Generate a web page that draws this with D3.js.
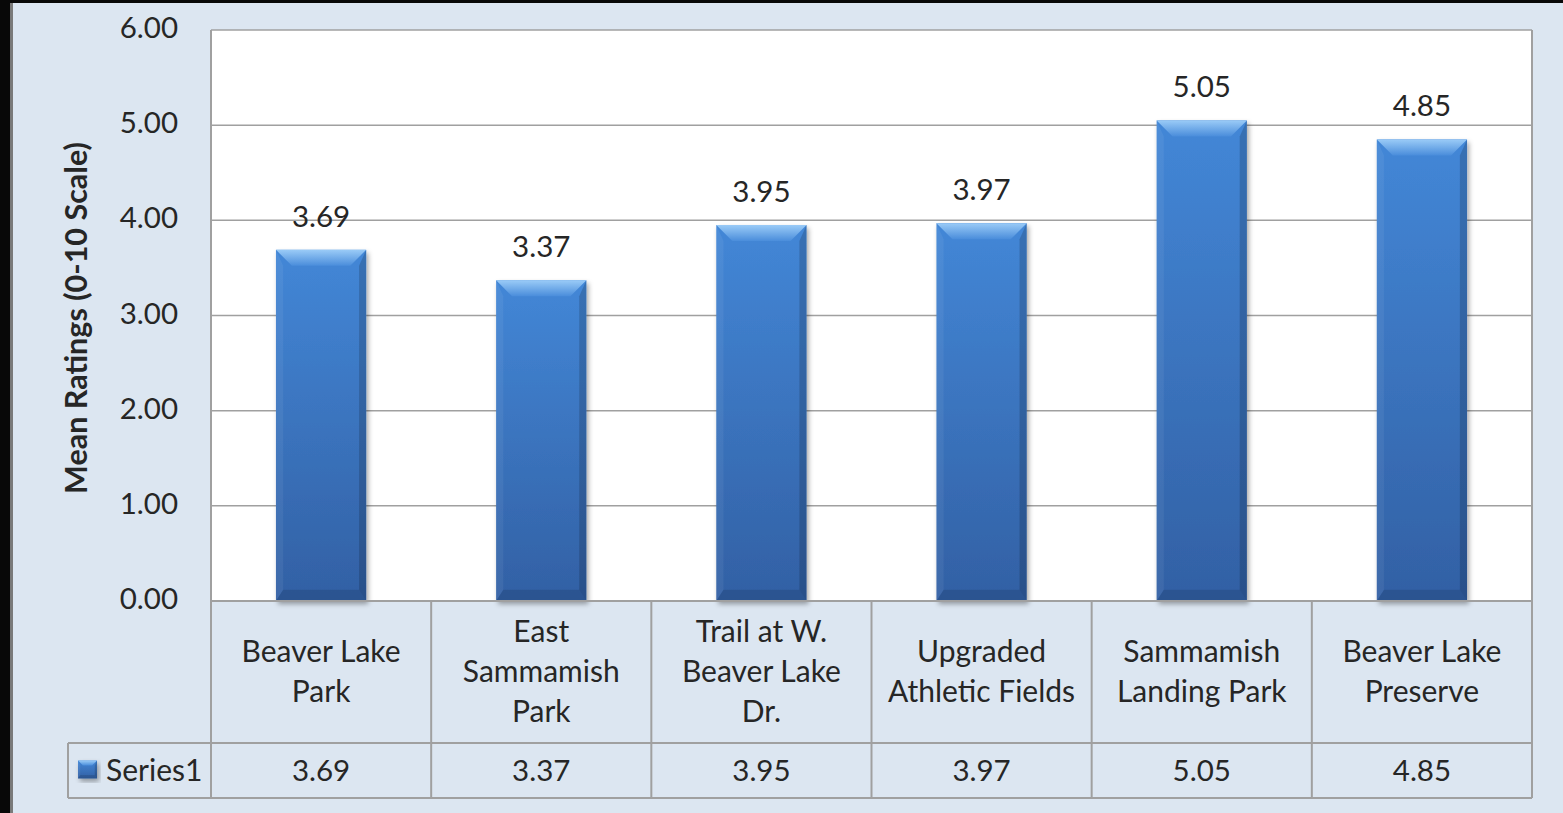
<!DOCTYPE html>
<html>
<head>
<meta charset="utf-8">
<script src="https://cdn.jsdelivr.net/npm/d3@7"></script>
<style>
  html, body { margin: 0; padding: 0; background: #000; }
  svg { display: block; }
  text { font-family: Lato, "Open Sans", sans-serif; fill: #262626; }
</style>
</head>
<body>
<svg id="chart"></svg>
<script>
// chart data
const categories = ["Beaver Lake Park", "East Sammamish Park", "Trail at W. Beaver Lake Dr.",
    "Upgraded Athletic Fields", "Sammamish Landing Park", "Beaver Lake Preserve"];
const categoryLines = [
    ["Beaver Lake", "Park"],
    ["East", "Sammamish", "Park"],
    ["Trail at W.", "Beaver Lake", "Dr."],
    ["Upgraded", "Athletic Fields"],
    ["Sammamish", "Landing Park"],
    ["Beaver Lake", "Preserve"]
];
const series1 = [3.69, 3.37, 3.95, 3.97, 5.05, 4.85];
const seriesName = "Series1";
const yTicks = [0, 1, 2, 3, 4, 5, 6];
const yTitle = "Mean Ratings (0-10 Scale)";

const width = 1563, height = 813;
const plot = {left: 211, right: 1532, top: 30, bottom: 601};
const table = {catBottom: 743, bottom: 798, left: 68};
const lineColor = "#a0a0a0";

const svg = d3.select("#chart").attr("width", width).attr("height", height);

// page frame
svg.append("rect").attr("width", width).attr("height", height).attr("fill", "#dce6f1");
svg.append("rect").attr("x", 0).attr("y", 0).attr("width", width).attr("height", 3).attr("fill", "#080808");
svg.append("rect").attr("x", 0).attr("y", 0).attr("width", 10).attr("height", height).attr("fill", "#080808");
svg.append("rect").attr("x", 10).attr("y", 3).attr("width", 3).attr("height", height).attr("fill", "#7a7a7a");

const defs = svg.append("defs");
const body = defs.append("linearGradient").attr("id", "barBody").attr("x1", 0).attr("y1", 0).attr("x2", 0).attr("y2", 1);
body.append("stop").attr("offset", "0%").attr("stop-color", "#4387d7");
body.append("stop").attr("offset", "100%").attr("stop-color", "#3260a4");
const topBevel = defs.append("linearGradient").attr("id", "barTop").attr("x1", 0).attr("y1", 0).attr("x2", 0).attr("y2", 1);
topBevel.append("stop").attr("offset", "0%").attr("stop-color", "#9acbf7");
topBevel.append("stop").attr("offset", "100%").attr("stop-color", "#4a8ddb");
const shadow = defs.append("filter").attr("id", "shadow").attr("x", "-20%").attr("y", "-20%").attr("width", "140%").attr("height", "140%");
shadow.append("feDropShadow").attr("dx", 2).attr("dy", 3).attr("stdDeviation", 2.5)
    .attr("flood-color", "#000").attr("flood-opacity", 0.35);

// scales
const x = d3.scaleBand().domain(categories).range([plot.left, plot.right])
    .paddingInner(0.59).paddingOuter(0.295);
const xCell = d3.scaleBand().domain(categories).range([plot.left, plot.right]);
const y = d3.scaleLinear().domain([0, 6]).range([plot.bottom, plot.top]);

// plot area
svg.append("rect").attr("x", plot.left).attr("y", plot.top)
    .attr("width", plot.right - plot.left).attr("height", plot.bottom - plot.top).attr("fill", "#fff");

svg.append("g").selectAll("line").data(yTicks.filter(d => d > 0)).join("line")
    .attr("x1", plot.left).attr("x2", plot.right)
    .attr("y1", d => y(d)).attr("y2", d => y(d))
    .attr("stroke", lineColor).attr("stroke-width", 1.5);

// y tick labels
svg.append("g").selectAll("text").data(yTicks).join("text")
    .attr("x", 178).attr("y", d => y(d) + 8)
    .attr("text-anchor", "end").attr("font-size", 29.5)
    .text(d => d3.format(".2f")(d));

svg.append("text")
    .attr("transform", `translate(87,318) rotate(-90)`)
    .attr("text-anchor", "middle").attr("font-size", 30.5).attr("font-weight", "bold")
    .text(yTitle);

// bars with bevel
function drawBevelBar(g, bx, by, bw, bh, b) {
    g.append("rect").attr("x", bx).attr("y", by).attr("width", bw).attr("height", bh)
        .attr("fill", "url(#barBody)").attr("filter", "url(#shadow)");
    b = Math.min(b, bh / 2, bw / 2);
    const pts = a => a.map(p => p.join(",")).join(" ");
    g.append("polygon").attr("points", pts([[bx, by], [bx + bw, by], [bx + bw - b, by + b], [bx + b, by + b]]))
        .attr("fill", "url(#barTop)");
    g.append("polygon").attr("points", pts([[bx, by], [bx + b * 0.45, by + b], [bx + b * 0.45, by + bh - b * 0.7], [bx, by + bh]]))
        .attr("fill", "#fff").attr("opacity", 0.06);
    g.append("polygon").attr("points", pts([[bx + bw, by], [bx + bw - b * 0.45, by + b], [bx + bw - b * 0.45, by + bh - b * 0.7], [bx + bw, by + bh]]))
        .attr("fill", "#000").attr("opacity", 0.16);
    g.append("polygon").attr("points", pts([[bx, by + bh], [bx + bw, by + bh], [bx + bw - b * 0.45, by + bh - b * 0.7], [bx + b * 0.45, by + bh - b * 0.7]]))
        .attr("fill", "#000").attr("opacity", 0.12);
}

const bars = svg.append("g");
series1.forEach((v, i) => {
    const c = categories[i];
    drawBevelBar(bars.append("g"), x(c), y(v), x.bandwidth(), y(0) - y(v), 16);
});

// data labels
svg.append("g").selectAll("text").data(series1).join("text")
    .attr("x", (d, i) => x(categories[i]) + x.bandwidth() / 2)
    .attr("y", d => y(d) - 23)
    .attr("text-anchor", "middle").attr("font-size", 29.5)
    .text(d => d3.format(".2f")(d));

// data table
const tg = svg.append("g").attr("stroke", lineColor).attr("stroke-width", 2);
tg.append("line").attr("x1", plot.left).attr("x2", plot.right).attr("y1", plot.bottom).attr("y2", plot.bottom);
tg.append("line").attr("x1", table.left).attr("x2", plot.right).attr("y1", table.catBottom).attr("y2", table.catBottom);
tg.append("line").attr("x1", table.left).attr("x2", plot.right).attr("y1", table.bottom).attr("y2", table.bottom);
tg.append("line").attr("x1", table.left).attr("x2", table.left).attr("y1", table.catBottom).attr("y2", table.bottom);
tg.append("line").attr("x1", plot.left).attr("x2", plot.left).attr("y1", plot.top).attr("y2", table.bottom);
tg.append("line").attr("x1", plot.right).attr("x2", plot.right).attr("y1", plot.top).attr("y2", table.bottom);
tg.selectAll("line.cell").data(categories.slice(1)).join("line").attr("class", "cell")
    .attr("x1", d => xCell(d)).attr("x2", d => xCell(d))
    .attr("y1", plot.bottom).attr("y2", table.bottom);

const catMid = (plot.bottom + table.catBottom) / 2;
const lh = 40;
const catText = svg.append("g").selectAll("text").data(categoryLines).join("text")
    .attr("text-anchor", "middle").attr("font-size", 30);
catText.each(function (lines, i) {
    const cx = xCell(categories[i]) + xCell.bandwidth() / 2;
    const y0 = catMid - (lines.length - 1) * lh / 2 + 10;
    d3.select(this).selectAll("tspan").data(lines).join("tspan")
        .attr("x", cx).attr("y", (d, j) => y0 + j * lh).text(d => d);
});

const rowMid = (table.catBottom + table.bottom) / 2;
svg.append("g").selectAll("text").data(series1).join("text")
    .attr("x", (d, i) => xCell(categories[i]) + xCell.bandwidth() / 2)
    .attr("y", rowMid + 10)
    .attr("text-anchor", "middle").attr("font-size", 29.5)
    .text(d => d3.format(".2f")(d));

// legend key
drawBevelBar(svg.append("g"), 78, rowMid - 10, 19, 18, 5);
svg.append("text").attr("x", 106).attr("y", rowMid + 10).attr("font-size", 30).text(seriesName);
</script>
</body>
</html>
